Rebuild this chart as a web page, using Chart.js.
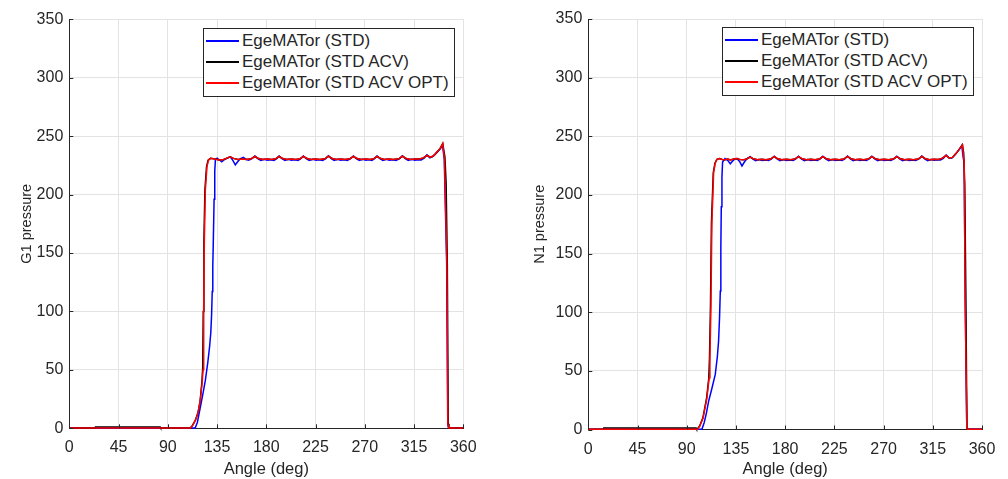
<!DOCTYPE html>
<html>
<head>
<meta charset="utf-8">
<script src="https://cdn.jsdelivr.net/npm/chart.js@4.4.1/dist/chart.umd.min.js"></script>
<style>
  html, body { margin: 0; padding: 0; background: #fff; }
  #wrap { position: relative; width: 1008px; height: 479px; overflow: hidden; }
  .panel { position: absolute; top: 0; width: 504px; height: 479px; }
  .legend {
    position: absolute; width: 252px; height: 69px; box-sizing: border-box;
    border: 1px solid #262626; background: #fff; padding-top: 1px;
    font-family: "Liberation Sans", Arial, sans-serif; font-size: 17px; color: #262626;
  }
  .legend .row { height: 21px; display: flex; align-items: center; white-space: nowrap; }
  .legend .swatch { display: inline-block; width: 33px; height: 2px; margin: 0 3px 0 2px; }
</style>
</head>
<body>
<div id="wrap">
  <div class="panel" style="left:0"><canvas id="g1Chart"></canvas></div>
  <div class="panel" style="left:504px"><canvas id="n1Chart"></canvas></div>
  <div class="legend" id="g1Legend" style="left:203px;top:28px"></div>
  <div class="legend" id="n1Legend" style="left:722px;top:27px"></div>
</div>
<script>
const angleTicks = [0, 45, 90, 135, 180, 225, 270, 315, 360];
const pressureTicks = [0, 50, 100, 150, 200, 250, 300, 350];
const seriesNames = ["EgeMATor (STD)", "EgeMATor (STD ACV)", "EgeMATor (STD ACV OPT)"];
const seriesColors = ["#0000ff", "#000000", "#ff0000"];

// ---- G1 pressure (left) : [angle, pressure]
const g1StdRise = [[0,0.3],[115,0.3],[117,5],[119.7,18],[122,29],[124.3,41],[126.5,56],[128.2,70],[129.3,82],[130,97],[130.6,117],[131.1,138],[131.7,166],[132.3,196],[132.9,220],[133.5,230]];
const g1StdPlateau = [[135,231.2],[137,229.8],[139.3,228],[141.5,229.8],[144,231],[147,232.3],[149.3,229.5],[151.7,225.5],[154.2,228.5],[156.5,230.8],[159,231.8],[161.5,230.2],[164,229.4],[166.8,230.8],[169.6,233],[172.2,230.8],[175,229.3],[178,230.2],[181,229.3],[184,229.8],[187,229.3],[189.5,230.8],[191.7,233],[194.3,230.8],[197,229.3],[200,230.2],[203,229.3],[206,229.8],[209,229.3],[211.5,230.8],[213.9,233],[216.5,230.8],[219.2,229.3],[222.5,230.2],[225.5,229.3],[228.5,229.8],[231.5,229.3],[234.3,230.8],[236.8,233.2],[239.4,230.8],[242,229.3],[245,230.2],[248,229.3],[251,229.8],[254,229.3],[257,230.8],[259.6,233],[262.2,230.8],[265,229.3],[268,230.2],[271,229.3],[274,229.8],[276.5,229.3],[278.8,230.8],[281.2,233],[283.8,230.8],[286.5,229.3],[289.5,230.2],[292.5,229.3],[295.5,229.8],[298.5,229.3],[301.8,230.8],[304.4,233.2],[307,230.8],[309.7,229.3],[312.7,230.2],[315.7,229.3],[318.7,229.8],[321.5,229.6],[324.2,231.2],[326.8,234],[329.5,231.5],[332,232.5],[334.5,234.5],[337,237],[339.3,239.5],[341,242.5]];
const g1StdFall = [[342.6,230],[344.8,141],[345.8,4],[346.5,0.3],[360,0.3]];

const g1AcvRise = [[0,0.3],[23.5,0.3],[24,1.2],[83,1.2],[83.5,0.3],[110.5,0.3],[112.5,2.5],[115,6.5],[117.5,13],[119.5,23],[121.2,40],[121.9,52],[122.4,100],[123,160],[123.9,204],[125.4,224],[126.8,229.5],[129,231]];
const g1OptRise = [[0,0.3],[110.8,0.3],[112.8,2.5],[115.3,7],[117.8,14],[119.7,24],[121.5,40],[122.2,50],[122.8,104],[123.4,161],[124.3,204],[125.8,224],[127.2,229.5],[129,231]];
const g1Plateau = [[133,230.4],[137,229.7],[141,230.1],[144,231.2],[147,232.3],[150,231],[154,230],[158,230.5],[162,230],[166,230.6],[169.6,232.6],[173,230.8],[177,230],[181,230.4],[185,230],[188.5,230.6],[191.7,232.6],[195,230.8],[199,230],[203,230.4],[207,230],[210.8,230.6],[213.9,232.6],[217.3,230.8],[221,230],[225,230.4],[229,230],[233.5,230.6],[236.8,232.8],[240.2,230.8],[244,230],[248,230.4],[252,230],[256.3,230.6],[259.6,232.6],[263,230.8],[267,230],[271,230.4],[275,230],[278,230.6],[281.2,232.6],[284.6,230.8],[288,230],[292,230.4],[296,230],[301.1,230.6],[304.4,232.8],[307.8,230.8],[312,230],[316,230.4],[320,230.4],[323.6,231.4],[326.8,233.6],[329.8,232],[332.6,233],[335.5,236],[338.5,239],[341.2,243.6]];
const g1AcvFall = [[343.2,232],[344.3,210],[345.4,140],[346.2,4],[346.9,0.3],[360,0.3]];
const g1OptFall = [[342.8,230],[345,141],[345.9,4],[346.6,0.3],[360,0.3]];

// ---- N1 pressure (right) : [angle, pressure]
const n1StdRise = [[0,0.3],[103.9,0.3],[106,6],[108,14],[110,24],[113,35],[116.1,47],[118,62],[119.1,75],[120,95],[120.7,118],[121.2,155],[121.6,190],[122.2,215],[122.8,228]];
const n1StdPlateau = [[125,231],[127.5,229.5],[129.8,226.5],[132,229],[134.4,231],[136.5,230.5],[138.3,228.5],[140.5,224.7],[143,228.5],[145.5,231.2],[148,232.6],[150.6,230.6],[153,229.3],[156,230.2],[159,229.3],[162,229.8],[165,229.3],[167.5,230.8],[170,233],[172.6,230.8],[175.3,229.3],[178.3,230.2],[181.3,229.3],[184.3,229.8],[187.3,229.3],[189.8,230.8],[192.2,233],[194.8,230.8],[197.5,229.3],[200.5,230.2],[203.5,229.3],[206.5,229.8],[209.5,229.3],[212,230.8],[214.5,233],[217.1,230.8],[219.8,229.3],[223,230.2],[226,229.3],[229,229.8],[232,229.3],[234.5,230.8],[237,233.2],[239.6,230.8],[242.3,229.3],[245.3,230.2],[248.3,229.3],[251.3,229.8],[254.3,229.3],[256.8,230.8],[259.3,233],[261.9,230.8],[264.6,229.3],[267.6,230.2],[270.6,229.3],[273.6,229.8],[276.6,229.3],[279.6,230.8],[282.1,233],[284.7,230.8],[287.4,229.3],[290.4,230.2],[293.4,229.3],[296.4,229.8],[299.4,229.3],[302.4,230.8],[305,233.2],[307.6,230.8],[310.3,229.3],[313.3,230.2],[316.3,229.5],[319.3,230],[322,229.8],[324.6,231.2],[327.2,234],[330,231.5],[332.5,231.5],[335,234],[337.3,236.5],[339.7,239.5],[341.5,242]];
const n1StdFall = [[342.8,232],[343.7,227],[344.6,113],[346.1,1],[346.7,0.3],[360,0.3]];

const n1AcvRise = [[0,0.3],[13.7,0.3],[14.2,1.2],[98.6,1.2],[99,0.4],[99.8,0.4],[101.8,3],[104.8,10],[108.2,27],[110.2,44],[110.8,60],[111.7,104],[112.6,176],[114.3,219],[115.8,227],[117.6,230.3]];
const n1OptRise = [[0,0.3],[100,0.3],[102,3],[105,10],[108.5,27],[110.5,44],[111.2,60],[112.1,104],[113,176],[114.6,219],[116,227],[117.6,230.3]];
const n1Plateau = [[120,231],[122.5,230.2],[125,229.9],[127.5,230.6],[130,229.9],[133,230.6],[136,231],[139,230.1],[142,229.9],[145,230.8],[148,232.3],[151,230.8],[154.5,230],[158.5,230.4],[162.5,230],[166.5,230.6],[170,232.6],[173.4,230.8],[177,230],[181,230.4],[185,230],[188.8,230.6],[192.2,232.6],[195.6,230.8],[199.3,230],[203.3,230.4],[207.3,230],[211.1,230.6],[214.5,232.6],[217.9,230.8],[221.6,230],[225.6,230.4],[229.6,230],[233.6,230.6],[237,232.8],[240.4,230.8],[244,230],[248,230.4],[252,230],[255.9,230.6],[259.3,232.6],[262.7,230.8],[266.5,230],[270.5,230.4],[274.5,230],[278.7,230.6],[282.1,232.6],[285.5,230.8],[289.3,230],[293.3,230.4],[297.3,230],[301.6,230.6],[305,232.8],[308.4,230.8],[312,230],[316,230.4],[320,230.3],[323.8,231.4],[327.2,233.6],[330,231.5],[333,232],[336,235],[338.5,238],[340.5,240.5],[342.1,242.7]];
const n1AcvFall = [[343.2,236],[344.2,210],[345.3,110],[346.2,1],[346.7,0.3],[360,0.3]];
const n1OptFall = [[343.7,227],[344.6,113],[346.1,1],[346.6,0.3],[360,0.3]];

const FONT = "'Liberation Sans', Arial, sans-serif";
const TEXT = "#262626";

const toPts = (arr) => arr.map(([x, y]) => ({ x, y }));

// small inward tick marks like the original figure
const innerTicks = {
  id: "innerTicks",
  afterDatasetsDraw(chart) {
    const { ctx, chartArea: a, scales: { x, y } } = chart;
    ctx.save();
    ctx.strokeStyle = TEXT;
    ctx.lineWidth = 1;
    ctx.beginPath();
    x.ticks.forEach((t) => {
      const px = Math.round(x.getPixelForValue(t.value)) + 0.5;
      ctx.moveTo(px, a.bottom);
      ctx.lineTo(px, a.bottom - 4);
    });
    y.ticks.forEach((t) => {
      const py = Math.round(y.getPixelForValue(t.value)) + 0.5;
      ctx.moveTo(a.left, py);
      ctx.lineTo(a.left + 4, py);
    });
    ctx.stroke();
    ctx.restore();
  },
};

function buildLegend(id) {
  document.getElementById(id).innerHTML = seriesNames
    .map((n, i) => `<div class="row"><span class="swatch" style="background:${seriesColors[i]}"></span>${n}</div>`)
    .join("");
}

function makeChart(canvasId, yTitle, series, box) {
  const datasets = series.map((pts, i) => ({
    label: seriesNames[i],
    data: toPts(pts),
    borderColor: seriesColors[i],
    backgroundColor: seriesColors[i],
    borderWidth: 1.5,
    showLine: true,
    pointRadius: 0,
    tension: 0,
    clip: 6,
    order: 3 - i,
  }));
  return new Chart(document.getElementById(canvasId), {
    type: "scatter",
    data: { datasets },
    plugins: [innerTicks],
    options: {
      responsive: true,
      maintainAspectRatio: false,
      animation: false,
      layout: { padding: { left: 0, right: box.padRight, top: box.padTop, bottom: 0 } },
      plugins: { legend: { display: false }, tooltip: { enabled: false } },
      scales: {
        x: {
          type: "linear",
          min: angleTicks[0],
          max: angleTicks[angleTicks.length - 1],
          afterBuildTicks: (s) => { s.ticks = angleTicks.map((v) => ({ value: v })); },
          afterFit: (s) => { s.height = box.xHeight; },
          ticks: { color: TEXT, font: { family: FONT, size: 16 }, padding: 10, maxRotation: 0 },
          grid: { color: (c) => (c.tick && c.tick.value === 0 ? "rgba(0,0,0,0)" : "#e3e3e3"), drawTicks: false },
          border: { color: TEXT, width: 1 },
          title: { display: true, text: "Angle (deg)", color: TEXT, font: { family: FONT, size: 16.5 }, padding: { top: 0, bottom: 0 } },
        },
        y: {
          type: "linear",
          min: pressureTicks[0],
          max: pressureTicks[pressureTicks.length - 1],
          afterBuildTicks: (s) => { s.ticks = pressureTicks.map((v) => ({ value: v })); },
          afterFit: (s) => { s.width = box.yWidth; },
          ticks: { color: TEXT, font: { family: FONT, size: 16 }, padding: 6 },
          grid: { color: (c) => (c.tick && c.tick.value === 0 ? "rgba(0,0,0,0)" : "#e3e3e3"), drawTicks: false },
          border: { color: TEXT, width: 1 },
          title: { display: true, text: yTitle, color: TEXT, font: { family: FONT, size: 14.5 }, padding: { top: box.yTitlePad, bottom: 0 } },
        },
      },
    },
  });
}

makeChart("g1Chart", "G1 pressure", [
  [...g1StdRise, ...g1StdPlateau, ...g1StdFall],
  [...g1AcvRise, ...g1Plateau, ...g1AcvFall],
  [...g1OptRise, ...g1Plateau, ...g1OptFall],
], { yWidth: 69.3, padRight: 40.7, padTop: 19.3, xHeight: 50.7, yTitlePad: 18.5 });

makeChart("n1Chart", "N1 pressure", [
  [...n1StdRise, ...n1StdPlateau, ...n1StdFall],
  [...n1AcvRise, ...n1Plateau, ...n1AcvFall],
  [...n1OptRise, ...n1Plateau, ...n1OptFall],
], { yWidth: 84.3, padRight: 26, padTop: 19, xHeight: 49.5, yTitlePad: 27.5 });

buildLegend("g1Legend");
buildLegend("n1Legend");
</script>
</body>
</html>
